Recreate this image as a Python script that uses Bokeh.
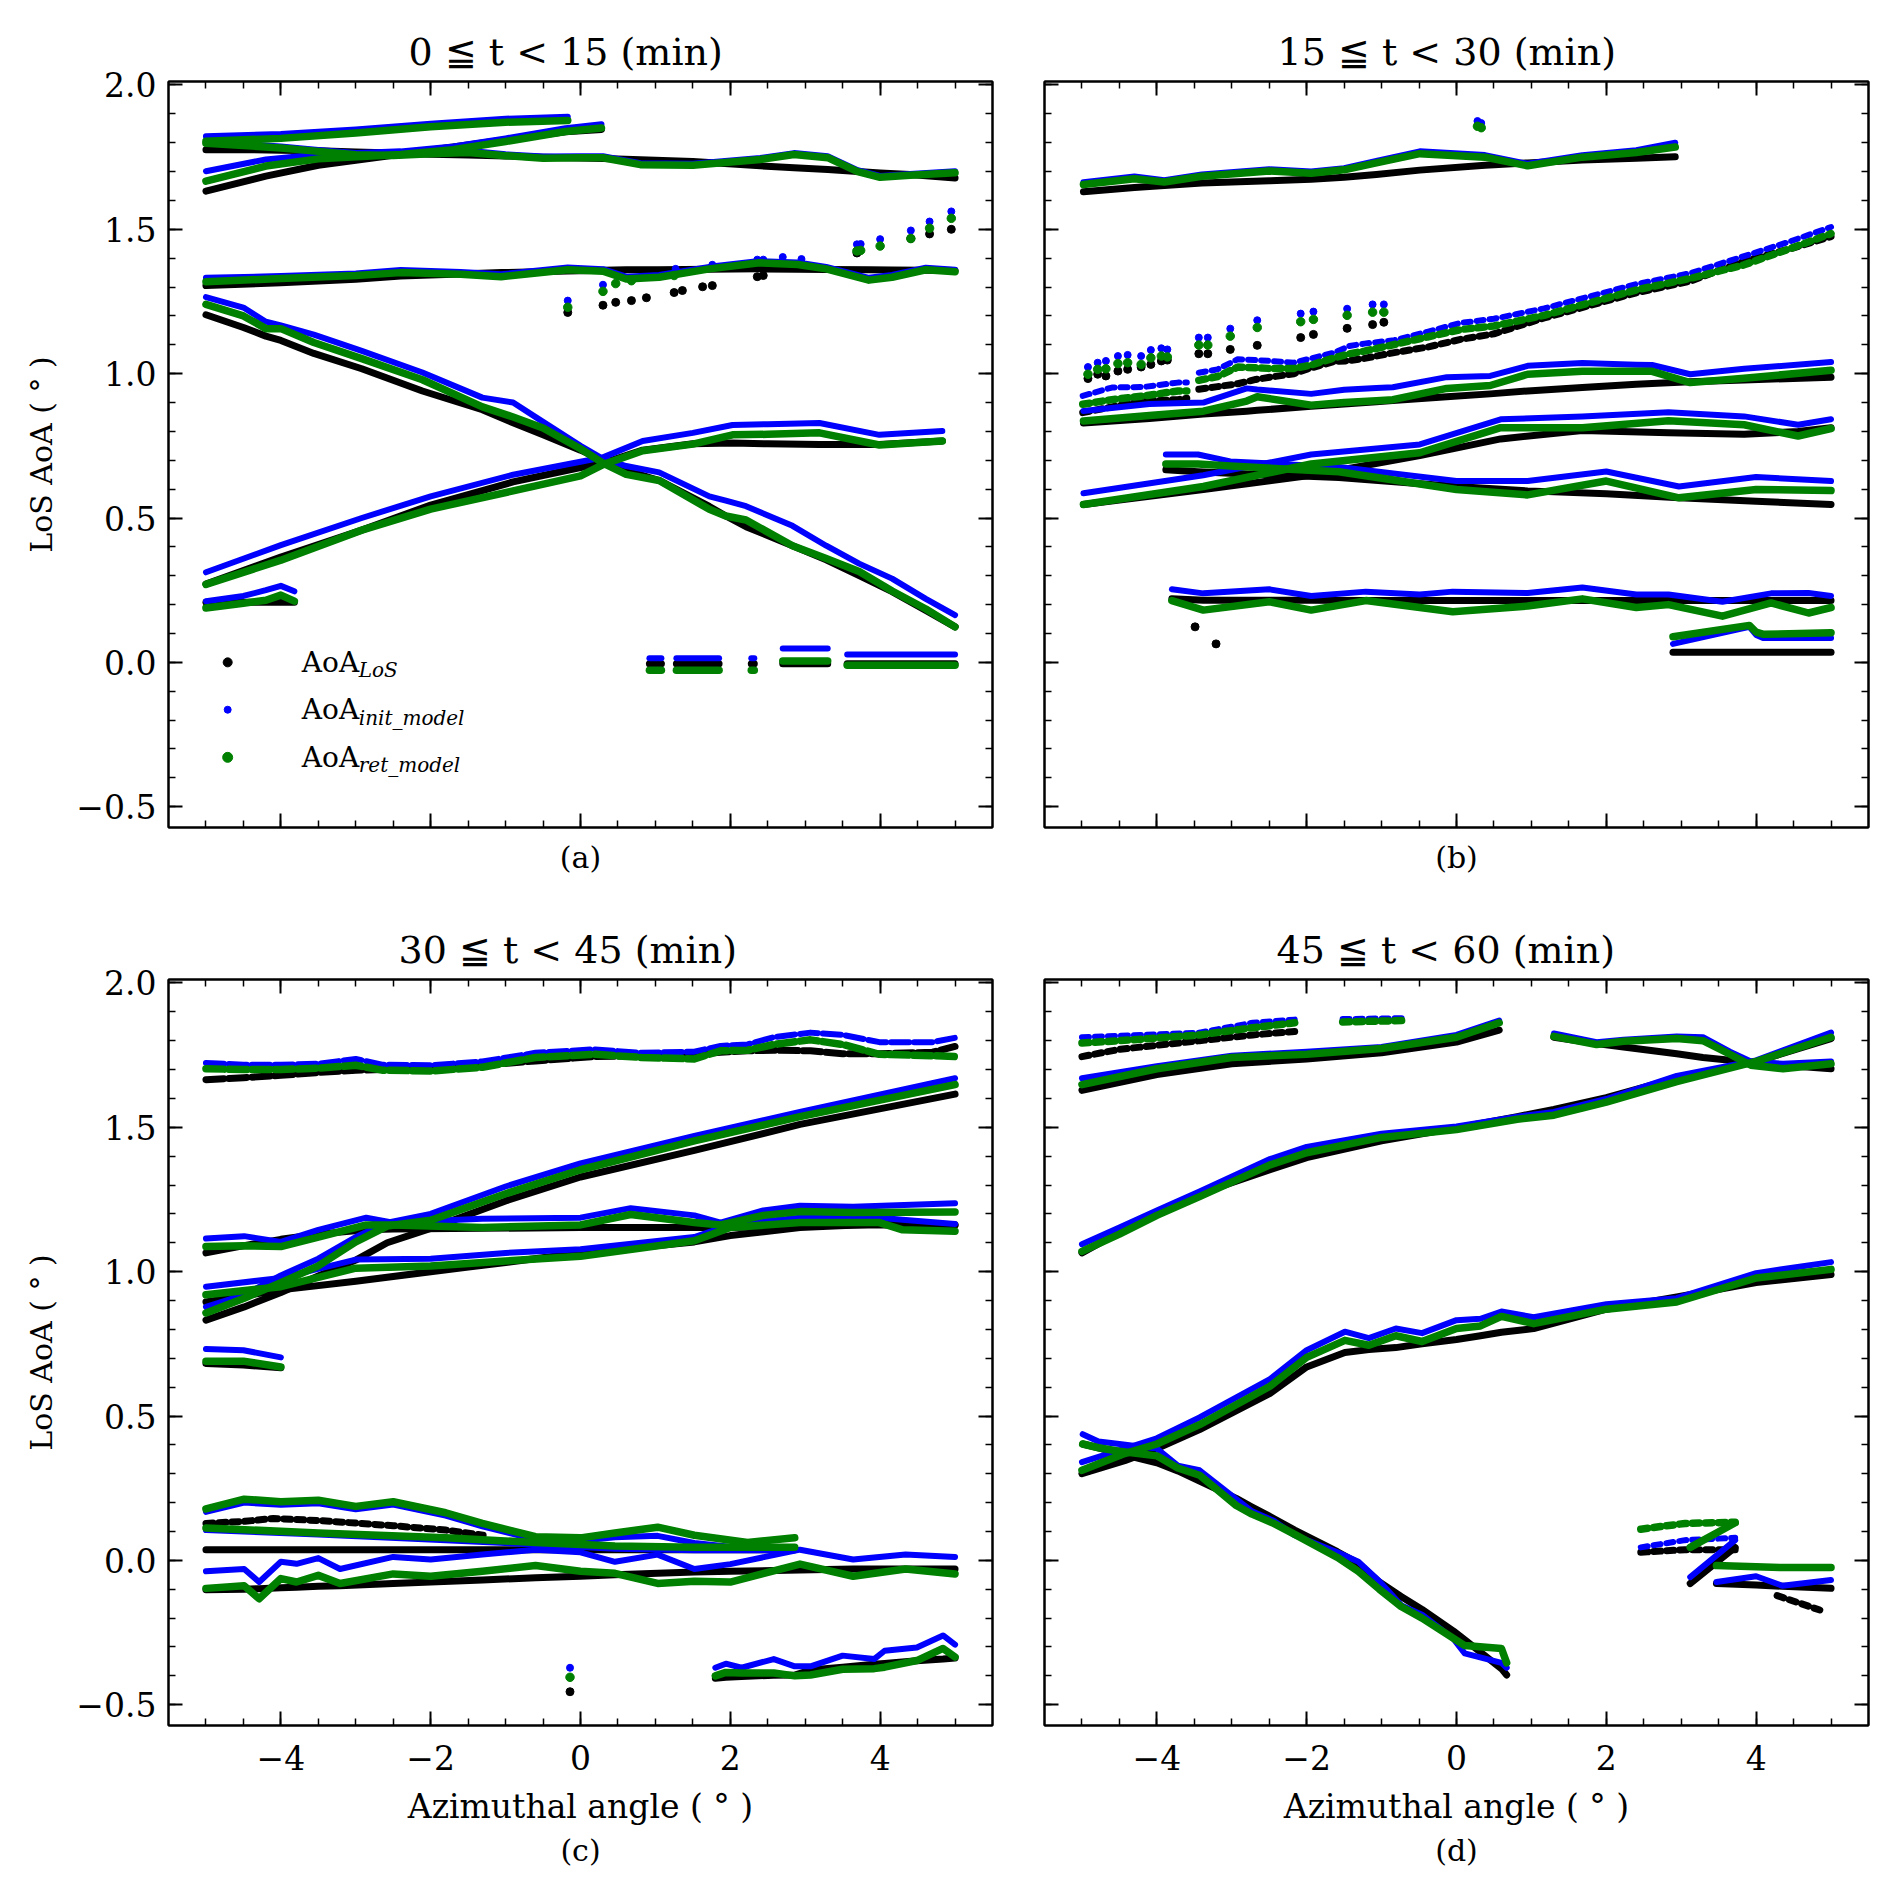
from bokeh.plotting import figure
from bokeh.models import Range1d, FixedTicker, LinearAxis, Label, CustomJSTickFormatter
from bokeh.layouts import column, row
from bokeh.embed import file_html
from bokeh.resources import INLINE

FONT = "DejaVu Serif"
LOS, INIT, RET = "#000000", "#0000ff", "#008000"

# ticks and labels
x_major = [-4, -2, 0, 2, 4]
x_minor = [round(-5 + 0.5 * i, 1) for i in range(21)]
y_major = [-0.5, 0.0, 0.5, 1.0, 1.5, 2.0]
y_minor = [round(-0.5 + 0.1 * i, 1) for i in range(26)]

titles = ["0 ≦ t < 15 (min)", "15 ≦ t < 30 (min)", "30 ≦ t < 45 (min)", "45 ≦ t < 60 (min)"]
title_offsets = [240, 233, 230, 232]
panel_tags = ["(a)", "(b)", "(c)", "(d)"]
legend_subs = ["LoS", "init_model", "ret_model"]
legend_rows = [0.0, -0.164, -0.329]

# ---------------- panel (a): 0 <= t < 15 ----------------
a1_x = [-5.0, -4.0, -3.0, -2.0, -1.0, -0.17]
a1_init = [1.822, 1.830, 1.846, 1.866, 1.883, 1.890]
a1_ret = [1.805, 1.815, 1.834, 1.855, 1.871, 1.877]

a2_x = [-5.0, -4.5, -4.0, -3.5, -3.0, -2.5, -2.0, -1.5, -1.0, -0.5, 0.0, 0.3, 0.8, 1.5, 2.4, 2.85, 3.3, 3.7, 4.0, 4.4, 5.0]
a2_los = [1.776, 1.776, 1.774, 1.772, 1.768, 1.764, 1.760, 1.757, 1.754, 1.750, 1.747, 1.745, 1.741, 1.735, 1.720, 1.713, 1.707, 1.700, 1.695, 1.690, 1.678]
a2_init = [1.800, 1.795, 1.787, 1.775, 1.764, 1.762, 1.768, 1.772, 1.760, 1.752, 1.753, 1.753, 1.729, 1.727, 1.747, 1.764, 1.753, 1.705, 1.685, 1.692, 1.701]
a2_ret = [1.798, 1.790, 1.782, 1.770, 1.758, 1.756, 1.762, 1.766, 1.755, 1.746, 1.748, 1.748, 1.724, 1.722, 1.742, 1.759, 1.748, 1.700, 1.680, 1.687, 1.696]

a3_x = [-5.0, -4.2, -3.5, -2.4, -1.7, -1.0, -0.2, 0.28]
a3_los = [1.632, 1.684, 1.722, 1.760, 1.785, 1.810, 1.838, 1.846]
a3_init = [1.701, 1.742, 1.759, 1.770, 1.787, 1.815, 1.850, 1.864]
a3_ret = [1.667, 1.719, 1.744, 1.759, 1.776, 1.804, 1.839, 1.851]

a4_x = [-5.0, -4.0, -3.0, -2.4, -1.6, -1.06, -0.17, 0.3, 0.61, 1.05, 1.72, 2.39, 2.9, 3.28, 3.85, 4.16, 4.61, 5.0]
a4_los = [1.305, 1.315, 1.327, 1.338, 1.345, 1.350, 1.356, 1.358, 1.360, 1.360, 1.362, 1.363, 1.362, 1.361, 1.360, 1.359, 1.358, 1.357]
a4_init = [1.332, 1.338, 1.347, 1.359, 1.352, 1.344, 1.368, 1.362, 1.336, 1.342, 1.370, 1.390, 1.385, 1.370, 1.332, 1.342, 1.367, 1.360]
a4_ret = [1.318, 1.330, 1.340, 1.350, 1.344, 1.336, 1.360, 1.355, 1.328, 1.334, 1.363, 1.384, 1.378, 1.363, 1.324, 1.334, 1.360, 1.353]

a5_x = [-5.0, -4.5, -4.2, -4.0, -3.56, -2.92, -2.11, -1.31, -0.9, -0.5, 0.0, 0.3, 0.61, 1.05, 1.72, 1.94, 2.21, 2.83, 3.28, 3.72, 4.16, 4.61, 5.0]
a5_los = [1.204, 1.160, 1.130, 1.115, 1.070, 1.017, 0.940, 0.875, 0.830, 0.788, 0.735, 0.700, 0.665, 0.630, 0.540, 0.507, 0.470, 0.404, 0.355, 0.301, 0.245, 0.180, 0.123]
a5_init = [1.265, 1.229, 1.180, 1.167, 1.135, 1.079, 1.004, 0.917, 0.900, 0.833, 0.750, 0.705, 0.680, 0.658, 0.575, 0.560, 0.541, 0.473, 0.404, 0.342, 0.290, 0.220, 0.164]
a5_ret = [1.240, 1.200, 1.156, 1.156, 1.108, 1.052, 0.979, 0.885, 0.850, 0.812, 0.740, 0.690, 0.651, 0.630, 0.530, 0.507, 0.493, 0.404, 0.360, 0.315, 0.247, 0.185, 0.123]

a6_x = [-5.0, -4.0, -2.92, -2.0, -0.9, 0.0, 0.3, 0.83, 1.5, 2.03, 2.5, 3.19, 3.99, 4.83]
a6_los = [0.271, 0.365, 0.458, 0.545, 0.625, 0.675, 0.690, 0.735, 0.757, 0.760, 0.757, 0.755, 0.755, 0.767]
a6_init = [0.312, 0.406, 0.500, 0.575, 0.650, 0.695, 0.710, 0.767, 0.795, 0.822, 0.825, 0.829, 0.788, 0.801]
a6_ret = [0.270, 0.354, 0.458, 0.531, 0.594, 0.646, 0.685, 0.733, 0.756, 0.788, 0.790, 0.795, 0.753, 0.767]

a7_x = [-5.0, -4.5, -4.2, -4.0, -3.82]
a7_los = [0.208, 0.208, 0.208, 0.208, 0.208]
a7_init = [0.212, 0.230, 0.250, 0.265, 0.246]
a7_ret = [0.188, 0.205, 0.215, 0.233, 0.212]

a_seg_x0 = [0.92, 1.28, 2.28, 2.70, 3.56]
a_seg_x1 = [1.08, 1.85, 2.32, 3.30, 5.00]
a_seg_los = [-0.005, -0.005, -0.005, -0.005, -0.005]
a_seg_init = [0.014, 0.014, 0.014, 0.048, 0.027]
a_seg_ret = [-0.027, -0.027, -0.027, 0.005, -0.010]

a_pts_los_x = [-0.17, 0.30, 0.47, 0.68, 0.88, 1.25, 1.36, 1.63, 1.76, 2.36, 2.44, 3.69, 4.41, 4.66, 4.95]
a_pts_los_y = [1.212, 1.237, 1.247, 1.253, 1.263, 1.281, 1.288, 1.301, 1.305, 1.336, 1.340, 1.418, 1.468, 1.484, 1.500]
a_pts_init_x = [-0.17, 0.30, 1.27, 1.76, 2.36, 2.44, 2.70, 2.95, 3.69, 3.74, 4.0, 4.41, 4.66, 4.95]
a_pts_init_y = [1.253, 1.308, 1.363, 1.377, 1.395, 1.395, 1.404, 1.397, 1.448, 1.449, 1.466, 1.496, 1.527, 1.562]
a_pts_ret_x = [-0.17, 0.30, 0.47, 0.68, 1.25, 3.69, 3.74, 4.0, 4.41, 4.66, 4.95]
a_pts_ret_y = [1.230, 1.285, 1.312, 1.322, 1.340, 1.425, 1.427, 1.442, 1.468, 1.504, 1.538]

# ---------------- panel (b): 15 <= t < 30 ----------------
b1_x = [-4.98, -4.3, -3.9, -3.4, -2.5, -1.94, -1.5, -1.07, -0.49, 0.38, 0.95, 1.68, 2.4, 2.92]
b1_los = [1.630, 1.645, 1.652, 1.660, 1.668, 1.673, 1.680, 1.690, 1.705, 1.722, 1.730, 1.740, 1.746, 1.751]
b1_init = [1.663, 1.683, 1.670, 1.690, 1.708, 1.700, 1.712, 1.737, 1.770, 1.757, 1.727, 1.757, 1.774, 1.800]
b1_ret = [1.655, 1.675, 1.664, 1.684, 1.702, 1.694, 1.706, 1.730, 1.762, 1.750, 1.720, 1.750, 1.766, 1.785]

b4_x = [-3.44, -3.19, -2.92, -2.68, -2.48, -2.17, -1.94, -1.63, -1.43, -1.23, -0.83, -0.39, 0.06, 0.5, 1.17, 2.4, 3.12, 3.84, 4.42, 5.0]
b4_los = [0.946, 0.955, 0.965, 0.980, 0.988, 1.000, 1.020, 1.042, 1.045, 1.053, 1.073, 1.092, 1.119, 1.138, 1.193, 1.280, 1.320, 1.390, 1.430, 1.475]
b4_init = [1.003, 1.015, 1.050, 1.047, 1.044, 1.038, 1.053, 1.073, 1.096, 1.104, 1.116, 1.145, 1.176, 1.190, 1.226, 1.310, 1.348, 1.407, 1.455, 1.508]
b4_ret = [0.977, 0.990, 1.023, 1.020, 1.018, 1.018, 1.030, 1.055, 1.069, 1.078, 1.101, 1.127, 1.153, 1.165, 1.202, 1.290, 1.330, 1.377, 1.430, 1.485]

b5_x = [-4.99, -4.6, -4.17, -3.72, -3.6]
b5_los = [0.865, 0.885, 0.905, 0.910, 0.915]
b5_init = [0.923, 0.952, 0.954, 0.969, 0.969]
b5_ret = [0.894, 0.910, 0.923, 0.940, 0.940]

b6_x = [-4.98, -4.1, -3.38, -2.8, -2.66, -1.94, -1.5, -1.07, -0.85, -0.13, 0.45, 0.95, 1.68, 2.4, 2.61, 3.12, 3.84, 5.0]
b6_los = [0.829, 0.845, 0.860, 0.870, 0.873, 0.887, 0.895, 0.903, 0.907, 0.920, 0.930, 0.940, 0.952, 0.963, 0.966, 0.972, 0.978, 0.988]
b6_init = [0.871, 0.895, 0.900, 0.949, 0.945, 0.930, 0.944, 0.950, 0.953, 0.988, 0.992, 1.027, 1.037, 1.031, 1.030, 0.998, 1.017, 1.040]
b6_ret = [0.836, 0.855, 0.870, 0.905, 0.920, 0.891, 0.900, 0.906, 0.910, 0.949, 0.959, 0.998, 1.008, 1.008, 1.008, 0.969, 0.984, 1.012]

b7_x = [-4.98, -3.38, -1.94, -0.49, 0.59, 1.68, 2.83, 3.84, 4.56, 5.0]
b7_los = [0.547, 0.599, 0.648, 0.716, 0.774, 0.803, 0.795, 0.790, 0.800, 0.813]
b7_init = [0.586, 0.648, 0.720, 0.755, 0.842, 0.852, 0.866, 0.852, 0.823, 0.842]
b7_ret = [0.547, 0.609, 0.687, 0.726, 0.813, 0.813, 0.837, 0.823, 0.784, 0.810]

b8_x = [-3.88, -3.45, -3.02, -1.57, 0.0, 0.95, 2.0, 2.97, 4.0, 5.0]
b8_los = [0.667, 0.660, 0.655, 0.640, 0.609, 0.594, 0.584, 0.570, 0.558, 0.547]
b8_init = [0.720, 0.720, 0.696, 0.677, 0.628, 0.628, 0.661, 0.609, 0.642, 0.628]
b8_ret = [0.687, 0.687, 0.680, 0.660, 0.599, 0.580, 0.628, 0.570, 0.599, 0.595]

b9_x = [-3.8, -3.38, -2.5, -1.94, -1.21, -0.49, -0.05, 0.95, 1.68, 2.4, 2.83, 3.55, 4.2, 4.7, 5.0]
b9_los = [0.220, 0.215, 0.215, 0.215, 0.214, 0.214, 0.214, 0.214, 0.214, 0.214, 0.214, 0.214, 0.214, 0.214, 0.214]
b9_init = [0.253, 0.239, 0.253, 0.230, 0.245, 0.235, 0.245, 0.240, 0.259, 0.235, 0.235, 0.210, 0.239, 0.240, 0.230]
b9_ret = [0.214, 0.181, 0.210, 0.181, 0.214, 0.190, 0.175, 0.195, 0.220, 0.190, 0.200, 0.160, 0.206, 0.171, 0.190]

b10_x = [2.89, 3.91, 4.0, 4.1, 5.0]
b10_los = [0.035, 0.035, 0.035, 0.035, 0.035]
b10_init = [0.064, 0.123, 0.095, 0.084, 0.084]
b10_ret = [0.089, 0.128, 0.105, 0.097, 0.103]

b_dots_x = [-4.92, -4.79, -4.68, -4.52, -4.39, -4.21, -4.08, -3.94, -3.86, -3.44, -3.32, -3.02, -2.66, -2.08, -1.91, -1.46, -1.12, -0.97]
b_dots_los = [0.983, 0.998, 0.992, 1.009, 1.015, 1.023, 1.032, 1.044, 1.047, 1.069, 1.069, 1.084, 1.098, 1.125, 1.136, 1.157, 1.170, 1.178]
b_dots_init = [1.023, 1.038, 1.044, 1.061, 1.065, 1.061, 1.082, 1.088, 1.084, 1.125, 1.125, 1.156, 1.185, 1.208, 1.215, 1.225, 1.240, 1.240]
b_dots_ret = [0.998, 1.015, 1.017, 1.035, 1.038, 1.032, 1.055, 1.061, 1.058, 1.099, 1.099, 1.130, 1.160, 1.180, 1.188, 1.202, 1.213, 1.213]
b_top_x = [0.28, 0.33]
b_top_init = [1.875, 1.868]
b_top_ret = [1.857, 1.852]
b_low_x = [-3.49, -3.21]
b_low_los = [0.123, 0.064]

# ---------------- panel (c): 30 <= t < 45 ----------------
c1_x = [-5.0, -4.5, -4.0, -3.5, -3.0, -2.65, -2.0, -1.31, -0.6, 0.18, 0.81, 1.52, 1.87, 2.23, 2.58, 3.07, 3.5, 3.99, 4.7, 5.0]
c1_los = [1.665, 1.672, 1.680, 1.690, 1.698, 1.700, 1.705, 1.715, 1.730, 1.745, 1.748, 1.752, 1.760, 1.765, 1.767, 1.765, 1.755, 1.755, 1.760, 1.780]
c1_init = [1.723, 1.717, 1.717, 1.720, 1.737, 1.717, 1.715, 1.728, 1.758, 1.770, 1.758, 1.762, 1.782, 1.787, 1.812, 1.828, 1.820, 1.795, 1.795, 1.810]
c1_ret = [1.703, 1.700, 1.700, 1.705, 1.715, 1.698, 1.695, 1.708, 1.742, 1.753, 1.742, 1.737, 1.765, 1.767, 1.787, 1.803, 1.787, 1.753, 1.748, 1.745]

c2_x = [-5.0, -4.49, -4.0, -3.5, -3.0, -2.58, -2.0, -1.0, 0.0, 1.52, 2.93, 5.0]
c2_los = [0.832, 0.878, 0.928, 0.985, 1.040, 1.100, 1.150, 1.245, 1.328, 1.420, 1.510, 1.615]
c2_init = [0.878, 0.920, 0.987, 1.045, 1.120, 1.170, 1.200, 1.295, 1.375, 1.470, 1.553, 1.670]
c2_ret = [0.857, 0.908, 0.962, 1.020, 1.103, 1.158, 1.178, 1.270, 1.353, 1.453, 1.537, 1.648]

c3_x = [-5.0, -4.0, -3.0, -2.0, -1.0, 0.0, 1.52, 2.0, 2.93, 3.99, 4.3, 5.0]
c3_los = [0.895, 0.937, 0.967, 1.000, 1.032, 1.065, 1.103, 1.125, 1.153, 1.165, 1.163, 1.162]
c3_init = [0.948, 0.978, 1.042, 1.045, 1.065, 1.078, 1.120, 1.162, 1.187, 1.187, 1.180, 1.165]
c3_ret = [0.920, 0.948, 1.012, 1.020, 1.037, 1.053, 1.107, 1.153, 1.170, 1.170, 1.145, 1.140]

c4_x = [-5.0, -4.49, -4.0, -3.5, -2.86, -2.5, -1.31, 0.0, 0.67, 1.52, 1.87, 2.44, 2.93, 3.64, 5.0]
c4_los = [1.065, 1.090, 1.112, 1.130, 1.145, 1.148, 1.150, 1.153, 1.153, 1.153, 1.153, 1.155, 1.158, 1.162, 1.162]
c4_init = [1.115, 1.123, 1.103, 1.145, 1.187, 1.170, 1.183, 1.187, 1.220, 1.195, 1.170, 1.212, 1.228, 1.225, 1.237]
c4_ret = [1.087, 1.090, 1.087, 1.120, 1.162, 1.162, 1.153, 1.162, 1.198, 1.170, 1.162, 1.195, 1.208, 1.205, 1.207]

c5_x = [-5.0, -4.5, -4.0]
c5_los = [0.682, 0.677, 0.667]
c5_init = [0.732, 0.728, 0.703]
c5_ret = [0.690, 0.690, 0.670]

c6_x = [-5.0, -4.49, -4.0, -3.5, -3.0, -2.5, -1.8, -1.31, -0.6, 0.0, 0.46, 1.03, 1.52, 2.23, 2.86]
c6_init = [0.168, 0.200, 0.193, 0.198, 0.177, 0.193, 0.155, 0.118, 0.072, 0.068, 0.080, 0.085, 0.060, 0.040, 0.045]
c6_ret = [0.178, 0.212, 0.203, 0.208, 0.187, 0.203, 0.165, 0.128, 0.082, 0.078, 0.095, 0.115, 0.087, 0.062, 0.078]
c6b_x = [-5.0, -4.49, -4.1, -3.5, -2.5, -1.8, -1.3]
c6b_los = [0.128, 0.135, 0.145, 0.138, 0.120, 0.105, 0.087]

c7_x = [-5.0, -3.5, -1.8, -0.6, 0.46, 1.52, 2.86]
c7_los = [0.037, 0.037, 0.037, 0.037, 0.037, 0.037, 0.037]
c7_init = [0.105, 0.090, 0.070, 0.055, 0.040, 0.035, 0.035]
c7_ret = [0.112, 0.095, 0.078, 0.062, 0.050, 0.045, 0.045]

c8_x = [-5.0, -4.49, -4.29, -4.0, -3.79, -3.5, -3.21, -2.5, -2.0, -1.31, -0.6, 0.0, 0.46, 1.03, 1.52, 2.0, 2.93, 3.64, 4.34, 5.0]
c8_los = [-0.102, -0.100, -0.098, -0.095, -0.093, -0.090, -0.088, -0.080, -0.075, -0.068, -0.060, -0.055, -0.050, -0.045, -0.040, -0.038, -0.033, -0.030, -0.030, -0.030]
c8_init = [-0.038, -0.030, -0.075, -0.005, -0.012, 0.008, -0.030, 0.012, 0.003, 0.020, 0.037, 0.028, -0.005, 0.020, -0.030, -0.013, 0.037, 0.003, 0.020, 0.012]
c8_ret = [-0.097, -0.088, -0.133, -0.063, -0.075, -0.052, -0.080, -0.047, -0.055, -0.038, -0.018, -0.038, -0.045, -0.080, -0.072, -0.075, -0.013, -0.055, -0.030, -0.047]

c9_x = [1.8, 1.94, 2.15, 2.58, 2.86, 3.07, 3.5, 3.92, 4.06, 4.49, 4.84, 5.0]
c9_los = [-0.408, -0.405, -0.402, -0.398, -0.397, -0.380, -0.370, -0.360, -0.357, -0.348, -0.342, -0.338]
c9_init = [-0.372, -0.358, -0.372, -0.342, -0.367, -0.367, -0.330, -0.342, -0.313, -0.302, -0.260, -0.292]
c9_ret = [-0.400, -0.388, -0.390, -0.390, -0.400, -0.397, -0.377, -0.375, -0.370, -0.347, -0.305, -0.335]

c_pt_x = [-0.14]
c_pt_los = [-0.455]
c_pt_init = [-0.372]
c_pt_ret = [-0.405]

# ---------------- panel (d): 45 <= t < 60 ----------------
d1_x = [-5.0, -4.5, -3.43, -2.72, -2.16]
d1_los = [1.745, 1.770, 1.800, 1.820, 1.832]
d1_init = [1.812, 1.817, 1.828, 1.862, 1.873]
d1_ret = [1.792, 1.800, 1.820, 1.845, 1.862]
d1b_x = [-1.52, -0.67]
d1b_init = [1.875, 1.878]
d1b_ret = [1.865, 1.870]

d2_x = [-5.0, -4.0, -3.0, -2.0, -1.0, 0.0, 0.57]
d2_los = [1.628, 1.683, 1.720, 1.737, 1.758, 1.795, 1.837]
d2_init = [1.670, 1.712, 1.748, 1.762, 1.778, 1.820, 1.870]
d2_ret = [1.648, 1.703, 1.742, 1.753, 1.773, 1.812, 1.862]

d3_x = [1.3, 1.87, 2.23, 2.94, 3.29, 3.65, 3.93, 4.36, 5.0]
d3_los = [1.812, 1.790, 1.778, 1.755, 1.742, 1.732, 1.725, 1.715, 1.703]
d3_init = [1.825, 1.795, 1.803, 1.815, 1.812, 1.762, 1.728, 1.720, 1.728]
d3_ret = [1.815, 1.787, 1.798, 1.808, 1.800, 1.753, 1.715, 1.703, 1.720]

d4_x = [-5.0, -4.5, -4.0, -3.43, -2.49, -2.0, -1.0, 0.0, 0.81, 1.3, 2.0, 2.94, 4.0, 5.0]
d4_los = [1.065, 1.137, 1.203, 1.270, 1.353, 1.395, 1.453, 1.498, 1.537, 1.562, 1.603, 1.670, 1.728, 1.807]
d4_init = [1.095, 1.153, 1.212, 1.278, 1.390, 1.432, 1.478, 1.503, 1.537, 1.553, 1.598, 1.678, 1.732, 1.828]
d4_ret = [1.070, 1.130, 1.195, 1.260, 1.370, 1.412, 1.465, 1.492, 1.528, 1.542, 1.587, 1.658, 1.728, 1.812]

d5_x = [-5.0, -4.43, -4.0, -3.43, -2.49, -2.0, -1.49, -1.17, -0.81, -0.46, 0.0, 0.32, 0.6, 1.03, 2.0, 2.94, 4.0, 5.0]
d5_los = [0.300, 0.345, 0.387, 0.453, 0.578, 0.670, 0.720, 0.730, 0.737, 0.750, 0.765, 0.778, 0.790, 0.803, 0.870, 0.912, 0.962, 0.990]
d5_init = [0.340, 0.387, 0.423, 0.495, 0.628, 0.728, 0.792, 0.770, 0.803, 0.787, 0.832, 0.837, 0.862, 0.842, 0.887, 0.908, 0.995, 1.033]
d5_ret = [0.312, 0.370, 0.403, 0.470, 0.603, 0.703, 0.762, 0.745, 0.778, 0.758, 0.803, 0.812, 0.845, 0.820, 0.870, 0.895, 0.978, 1.008]

d6_x = [-4.99, -4.78, -4.5, -4.0, -3.72, -3.43, -2.94, -2.73, -2.44, -2.16, -1.59, -1.31, -1.03, -0.74, -0.46, -0.04, 0.11, 0.6, 0.67]
d6_los = [0.403, 0.390, 0.370, 0.338, 0.310, 0.275, 0.215, 0.185, 0.145, 0.105, 0.030, -0.010, -0.075, -0.125, -0.170, -0.245, -0.275, -0.375, -0.397]
d6_init = [0.437, 0.412, 0.403, 0.387, 0.328, 0.312, 0.212, 0.170, 0.137, 0.087, 0.028, -0.005, -0.072, -0.155, -0.188, -0.272, -0.322, -0.355, -0.372]
d6_ret = [0.403, 0.390, 0.378, 0.362, 0.320, 0.295, 0.190, 0.160, 0.128, 0.090, 0.010, -0.038, -0.100, -0.160, -0.200, -0.270, -0.295, -0.305, -0.355]

d7_x = [2.46, 3.05, 3.72]
d7_los = [0.028, 0.037, 0.037]
d7_init = [0.045, 0.070, 0.078]
d7_ret = [0.108, 0.128, 0.132]
d8_x = [3.12, 3.72]
d8_los = [-0.080, 0.045]
d8_init = [-0.058, 0.070]
d8_ret = [0.045, 0.130]
d9_x = [3.47, 4.0, 4.35, 5.0]
d9_los = [-0.080, -0.085, -0.090, -0.097]
d9_init = [-0.075, -0.055, -0.088, -0.068]
d9_ret = [-0.018, -0.022, -0.025, -0.025]
d10_x = [4.28, 4.85]
d10_los = [-0.122, -0.172]

SOLID, DOTS, GAPPY = "solid", "7 6", "18 5"

panels = [
    dict(tracks=[(a1_x, None, a1_init, a1_ret, SOLID), (a2_x, a2_los, a2_init, a2_ret, SOLID),
                 (a3_x, a3_los, a3_init, a3_ret, SOLID), (a4_x, a4_los, a4_init, a4_ret, SOLID),
                 (a5_x, a5_los, a5_init, a5_ret, SOLID), (a6_x, a6_los, a6_init, a6_ret, SOLID),
                 (a7_x, a7_los, a7_init, a7_ret, SOLID)],
         points=[(a_pts_los_x, a_pts_los_y, LOS), (a_pts_init_x, a_pts_init_y, INIT),
                 (a_pts_ret_x, a_pts_ret_y, RET)],
         segs=(a_seg_x0, a_seg_x1, a_seg_los, a_seg_init, a_seg_ret)),
    dict(tracks=[(b1_x, b1_los, b1_init, b1_ret, SOLID), (b4_x, b4_los, b4_init, b4_ret, DOTS),
                 (b5_x, b5_los, b5_init, b5_ret, DOTS), (b6_x, b6_los, b6_init, b6_ret, SOLID),
                 (b7_x, b7_los, b7_init, b7_ret, SOLID), (b8_x, b8_los, b8_init, b8_ret, SOLID),
                 (b9_x, b9_los, b9_init, b9_ret, SOLID), (b10_x, b10_los, b10_init, b10_ret, SOLID)],
         points=[(b_dots_x, b_dots_los, LOS), (b_low_x, b_low_los, LOS),
                 (b_dots_x, b_dots_init, INIT), (b_top_x, b_top_init, INIT),
                 (b_dots_x, b_dots_ret, RET), (b_top_x, b_top_ret, RET)],
         segs=None),
    dict(tracks=[(c1_x, c1_los, c1_init, c1_ret, GAPPY), (c2_x, c2_los, c2_init, c2_ret, SOLID),
                 (c3_x, c3_los, c3_init, c3_ret, SOLID), (c4_x, c4_los, c4_init, c4_ret, SOLID),
                 (c5_x, c5_los, c5_init, c5_ret, SOLID), (c6_x, None, c6_init, c6_ret, SOLID),
                 (c6b_x, c6b_los, None, None, DOTS), (c7_x, c7_los, c7_init, c7_ret, SOLID),
                 (c8_x, c8_los, c8_init, c8_ret, SOLID), (c9_x, c9_los, c9_init, c9_ret, SOLID)],
         points=[(c_pt_x, c_pt_los, LOS), (c_pt_x, c_pt_init, INIT), (c_pt_x, c_pt_ret, RET)],
         segs=None),
    dict(tracks=[(d1_x, d1_los, d1_init, d1_ret, DOTS), (d1b_x, None, d1b_init, d1b_ret, DOTS),
                 (d2_x, d2_los, d2_init, d2_ret, SOLID), (d3_x, d3_los, d3_init, d3_ret, SOLID),
                 (d4_x, d4_los, d4_init, d4_ret, SOLID), (d5_x, d5_los, d5_init, d5_ret, SOLID),
                 (d6_x, d6_los, d6_init, d6_ret, SOLID), (d7_x, d7_los, d7_init, d7_ret, DOTS),
                 (d8_x, d8_los, d8_init, d8_ret, SOLID), (d9_x, d9_los, d9_init, d9_ret, SOLID),
                 (d10_x, d10_los, None, None, DOTS)],
         points=[], segs=None),
]

Y_FMT = "return tick.toFixed(1).replace('-', '\u2212');"
X_FMT = "return tick.toFixed(0).replace('-', '\u2212');"


def style_axis(ax, ticks, minor, fmt, show):
    ax.ticker = FixedTicker(ticks=ticks, minor_ticks=minor)
    ax.formatter = CustomJSTickFormatter(code=fmt)
    ax.major_tick_in = 14
    ax.major_tick_out = 0
    ax.minor_tick_in = 7
    ax.minor_tick_out = 0
    ax.major_tick_line_width = 2
    ax.minor_tick_line_width = 1.5
    ax.major_tick_line_color = "black"
    ax.minor_tick_line_color = "black"
    ax.axis_line_width = 2
    ax.axis_line_color = "black"
    ax.major_label_text_font = FONT
    ax.major_label_text_color = "black"
    ax.major_label_text_font_size = "33px" if show else "0px"
    ax.major_label_standoff = 12 if show else 0
    ax.axis_label_text_font = FONT
    ax.axis_label_text_font_style = "normal"
    ax.axis_label_text_font_size = "30px"
    ax.axis_label_text_color = "black"


def make_panel(i, left, bottom):
    p = figure(frame_width=824, frame_height=746,
               x_range=Range1d(-5.5, 5.5), y_range=Range1d(-0.572, 2.012),
               output_backend="svg", toolbar_location=None,
               min_border_left=168 if left else 42, min_border_right=10 if left else 15,
               min_border_top=81 if i < 2 else 74, min_border_bottom=145 if bottom else 78)
    p.grid.visible = False
    p.outline_line_color = "black"
    p.outline_line_width = 2

    p.title.text = titles[i]
    p.title.align = "left"
    p.title.offset = title_offsets[i]
    p.title.text_font = FONT
    p.title.text_font_style = "normal"
    p.title.text_font_size = "38px"
    p.title.text_color = "black"
    p.title.standoff = 15

    style_axis(p.xaxis[0], x_major, x_minor, X_FMT, bottom)
    style_axis(p.yaxis[0], y_major, y_minor, Y_FMT, left)
    if left:
        p.yaxis[0].axis_label = "LoS AoA ( ° )"
        p.yaxis[0].axis_label_standoff = 14
    if bottom:
        p.xaxis[0].axis_label = "Azimuthal angle ( ° )"
        p.xaxis[0].axis_label_standoff = 14
        p.xaxis[0].major_label_standoff = 19
        p.xaxis[0].axis_label_text_font_size = "33px"
        tag = LinearAxis(ticker=FixedTicker(ticks=[]), axis_label=panel_tags[i],
                         axis_line_color=None, major_tick_line_color=None,
                         minor_tick_line_color=None, major_label_text_font_size="0px",
                         major_label_standoff=0, axis_label_standoff=4,
                         axis_label_text_font=FONT, axis_label_text_font_style="normal",
                         axis_label_text_font_size="30px", axis_label_text_color="black")
        p.add_layout(tag, "below")
    else:
        p.xaxis[0].axis_label = panel_tags[i]
        p.xaxis[0].axis_label_standoff = 12

    top = LinearAxis()
    style_axis(top, x_major, x_minor, X_FMT, False)
    p.add_layout(top, "above")
    right = LinearAxis()
    style_axis(right, y_major, y_minor, Y_FMT, False)
    p.add_layout(right, "right")

    spec = panels[i]
    for key, color, width in ((1, LOS, 7), (2, INIT, 6), (3, RET, 7.5)):
        for tr in spec["tracks"]:
            if tr[key] is None:
                continue
            p.line(tr[0], tr[key], line_color=color, line_width=width, line_dash=tr[4],
                   line_cap="round", line_join="round")
        if spec["segs"] is not None:
            s = spec["segs"]
            p.segment(x0=s[0], y0=s[key + 1], x1=s[1], y1=s[key + 1], line_color=color,
                      line_width=width, line_cap="round")
        for px, py, c in spec["points"]:
            if c == color:
                p.scatter(px, py, size=width + 1, color=c)
    return p


pa = make_panel(0, True, False)
pb = make_panel(1, False, False)
pc = make_panel(2, True, True)
pd = make_panel(3, False, True)

# legend of panel (a)
for yy, col, sz, sub in zip(legend_rows, (LOS, INIT, RET), (9, 7, 10), legend_subs):
    pa.scatter([-4.71], [yy], size=sz, color=col)
    pa.add_layout(Label(x=-3.72, y=yy, text="AoA", text_baseline="middle", text_font=FONT,
                        text_font_size="28px", text_color="black"))
    pa.add_layout(Label(x=-2.96, y=yy, y_offset=-8, text=sub, text_baseline="middle",
                        text_font=FONT, text_font_style="italic", text_font_size="20px",
                        text_color="black"))

layout = column(row(pa, pb), row(pc, pd))
open("out.html", "w").write(file_html(layout, INLINE))
